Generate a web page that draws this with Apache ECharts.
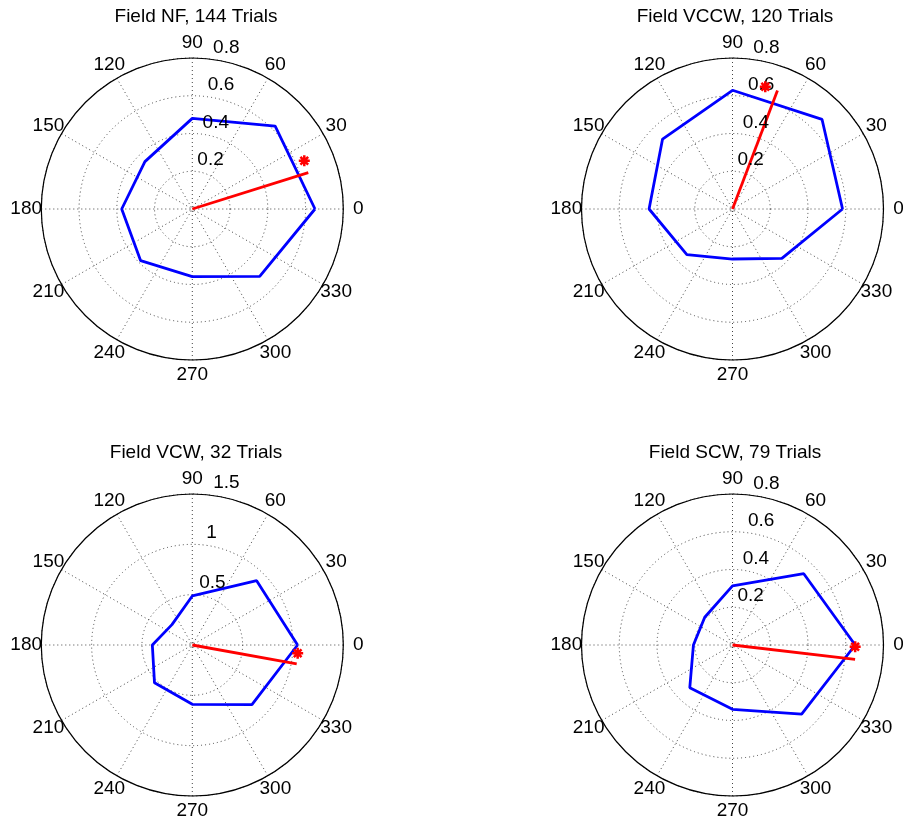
<!DOCTYPE html>
<html>
<head>
<meta charset="utf-8">
<script src="https://cdn.jsdelivr.net/npm/echarts@6/dist/echarts.min.js"></script>
<style>
  html, body { margin: 0; padding: 0; background: #fff; }
  #chart { width: 903px; height: 819px; }
</style>
</head>
<body>
<div id="chart"></div>
<script>
// ---------------- data ----------------
const panelTitles = ['Field NF, 144 Trials', 'Field VCCW, 120 Trials', 'Field VCW, 32 Trials', 'Field SCW, 79 Trials'];
const directions = [0, 45, 90, 135, 180, 225, 270, 315];
const nfRates   = [0.650, 0.621, 0.480, 0.355, 0.374, 0.387, 0.358, 0.505];
const vccwRates = [0.583, 0.671, 0.629, 0.524, 0.442, 0.342, 0.265, 0.370];
const vcwRates  = [1.046, 0.904, 0.487, 0.286, 0.397, 0.531, 0.589, 0.838];
const scwRates  = [0.650, 0.534, 0.313, 0.208, 0.207, 0.320, 0.341, 0.518];
const angleTicks = [0, 30, 60, 90, 120, 150, 180, 210, 240, 270, 300, 330];
const radialTicksNF   = [0.2, 0.4, 0.6, 0.8];
const radialTicksVCCW = [0.2, 0.4, 0.6, 0.8];
const radialTicksVCW  = [0.5, 1, 1.5];
const radialTicksSCW  = [0.2, 0.4, 0.6, 0.8];
const vectorAngles  = [17.4, 69.2, 349.7, 353.3];
const vectorLengths = [0.644, 0.671, 1.054, 0.654];
const peakAngles = [23.3, 75.0, 355.5, 359.2];
const peakRadii  = [0.646, 0.671, 1.050, 0.650];

// ---------------- layout ----------------
const rates = [nfRates, vccwRates, vcwRates, scwRates];
const radialTicks = [radialTicksNF, radialTicksVCCW, radialTicksVCW, radialTicksSCW];
const centers = [[192.3, 209], [732.5, 209], [192.3, 645], [732.5, 645]];
const titlePos = [[196, 7], [735, 7], [196, 443], [735, 443]];
const R = 151;
const FONT = "'Liberation Sans', Arial, Helvetica, sans-serif";
const FS = 19;

const option = {
  backgroundColor: '#ffffff',
  animation: false,
  title: [],
  polar: [],
  angleAxis: [],
  radiusAxis: [],
  series: []
};

const starPath = 'path://M0,-5L0,5M-5,0L5,0M-3.5,-3.5L3.5,3.5M-3.5,3.5L3.5,-3.5';

for (let p = 0; p < 4; p++) {
  const ticks = radialTicks[p];
  const rmax = ticks[ticks.length - 1];
  const rinc = ticks[1] - ticks[0];

  option.title.push({
    text: panelTitles[p],
    left: titlePos[p][0],
    top: titlePos[p][1],
    textAlign: 'center',
    padding: 0,
    textStyle: { fontFamily: FONT, fontSize: FS, fontWeight: 'normal', color: '#000' }
  });

  option.polar.push({ center: centers[p], radius: R });

  option.angleAxis.push({
    polarIndex: p,
    type: 'value',
    min: 0, max: 360, interval: 30,
    startAngle: 0,
    clockwise: false,
    axisLine: { show: true, lineStyle: { color: '#000', width: 1.2 } },
    axisTick: { show: false },
    axisLabel: { show: false },
    splitLine: { show: true, lineStyle: { color: '#444', width: 1, type: [1, 3] } }
  });

  option.radiusAxis.push({
    polarIndex: p,
    type: 'value',
    min: 0, max: rmax, interval: rinc,
    axisLine: { show: false },
    axisTick: { show: false },
    axisLabel: { show: false },
    splitLine: { show: true, lineStyle: { color: '#444', width: 1, type: [1, 3] } }
  });

  // angle tick labels at 1.1 * rmax
  option.series.push({
    type: 'scatter', coordinateSystem: 'polar', polarIndex: p,
    clip: false, silent: true, symbolSize: 1,
    itemStyle: { color: 'rgba(0,0,0,0)', opacity: 1 },
    data: angleTicks.map(a => [rmax * 1.1, a]),
    label: {
      show: true, position: 'inside',
      formatter: d => String(d.value[1]),
      fontFamily: FONT, fontSize: FS, color: '#000', opacity: 1
    },
    z: 5
  });

  // radial tick labels at 82 degrees
  option.series.push({
    type: 'scatter', coordinateSystem: 'polar', polarIndex: p,
    clip: false, silent: true, symbolSize: 1,
    itemStyle: { color: 'rgba(0,0,0,0)', opacity: 1 },
    data: ticks.map(t => ({ value: [t + rinc / 20, 82], tickText: String(t) })),
    label: {
      show: true, position: [0, 0], align: 'left', verticalAlign: 'bottom',
      formatter: d => d.data.tickText,
      fontFamily: FONT, fontSize: FS, color: '#000', opacity: 1
    },
    z: 5
  });

  // blue tuning polygon
  const poly = directions.map((a, i) => [rates[p][i], a]);
  poly.push([rates[p][0], 360]);
  option.series.push({
    type: 'line', coordinateSystem: 'polar', polarIndex: p,
    data: poly, symbol: 'none', smooth: false, silent: true,
    lineStyle: { color: '#0000ff', width: 2.8 },
    z: 3
  });

  // red vector
  option.series.push({
    type: 'line', coordinateSystem: 'polar', polarIndex: p,
    data: [[0, vectorAngles[p]], [vectorLengths[p], vectorAngles[p]]],
    symbol: 'none', silent: true,
    lineStyle: { color: '#ff0000', width: 2.8 },
    z: 4
  });

  // red star
  option.series.push({
    type: 'scatter', coordinateSystem: 'polar', polarIndex: p,
    clip: false, silent: true,
    symbol: starPath, symbolSize: 11,
    data: [[peakRadii[p], peakAngles[p]]],
    itemStyle: { color: '#ff0000', borderColor: '#ff0000', borderWidth: 2.5, opacity: 1 },
    z: 6
  });
}

const chart = echarts.init(document.getElementById('chart'), null, { renderer: 'canvas' });
chart.setOption(option);
</script>
</body>
</html>
